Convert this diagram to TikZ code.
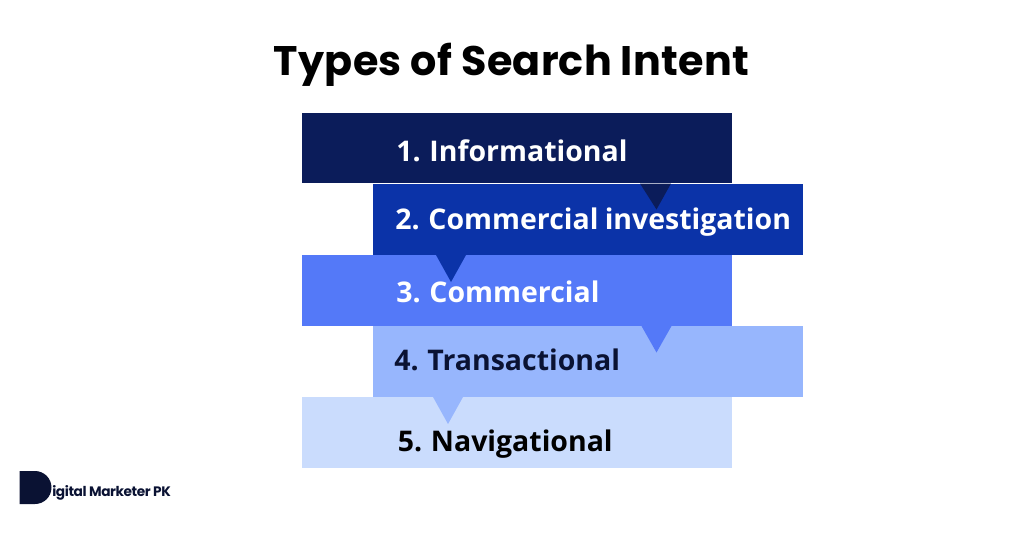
\documentclass[tikz,border=0pt]{standalone}
\usepackage{fontspec}
\setmainfont[WordSpace=0.85]{Open Sans}
\newfontfamily\titlefont[LetterSpace=0.6]{Poppins}
\newfontfamily\brandfont[LetterSpace=-3]{Poppins}
\definecolor{barone}{HTML}{0B1C5A}
\definecolor{bartwo}{HTML}{0B33A8}
\definecolor{barthree}{HTML}{5479F8}
\definecolor{barfour}{HTML}{97B6FD}
\definecolor{barfive}{HTML}{CADCFD}
\definecolor{inkdark}{HTML}{0A1233}

\begin{document}
\begin{tikzpicture}[x=0.02cm,y=-0.02cm,
  bar/.style={rectangle,inner sep=0pt,minimum width=8.6cm,minimum height=1.42cm},
  label/.style={anchor=base west,inner sep=0pt,font=\fontsize{16.2}{20}\bfseries}]

\useasboundingbox (0,0) rectangle (1024,538);

\draw (517,148) node[bar,fill=barone] (info) {}
      (588,219.5) node[bar,fill=bartwo] (invest) {}
      (517,290.5) node[bar,fill=barthree] (comm) {}
      (588,361.5) node[bar,fill=barfour] (trans) {}
      (517,432.5) node[bar,fill=barfive] (navi) {};

\fill[barone] (640,183.5) -- (671,183.5) -- (656.5,209.5) -- cycle;
\fill[bartwo] (436,255) -- (466,255) -- (451,282) -- cycle;
\fill[barthree] (641.5,326) -- (671.5,326) -- (656.5,352.5) -- cycle;
\fill[barfour] (433,397) -- (463,397) -- (448,424) -- cycle;

\draw (396,161.5) node[label,text=white] (infotext) {1. Informational}
      (395,229) node[label,text=white] (investtext) {2. Commercial investigation}
      (396,302) node[label,text=white] (commtext) {3. Commercial}
      (394,370) node[label,text=inkdark] (transtext) {4. Transactional}
      (397.5,451) node[label,text=black] (navitext) {5. Navigational};

\draw (511.5,75) node[anchor=base,inner sep=0pt,font=\titlefont\fontsize{23.5}{28}\bfseries] (heading) {Types of Search Intent};

\fill[inkdark] (19.5,471) -- (35,471) arc[start angle=-90,end angle=90,radius=16.5] -- (19.5,504) -- cycle;
\draw (52,496) node[anchor=base west,inner sep=0pt,text=inkdark,font=\brandfont\fontsize{7.8}{9}\bfseries] (brand) {igital Marketer PK};
\end{tikzpicture}
\end{document}
